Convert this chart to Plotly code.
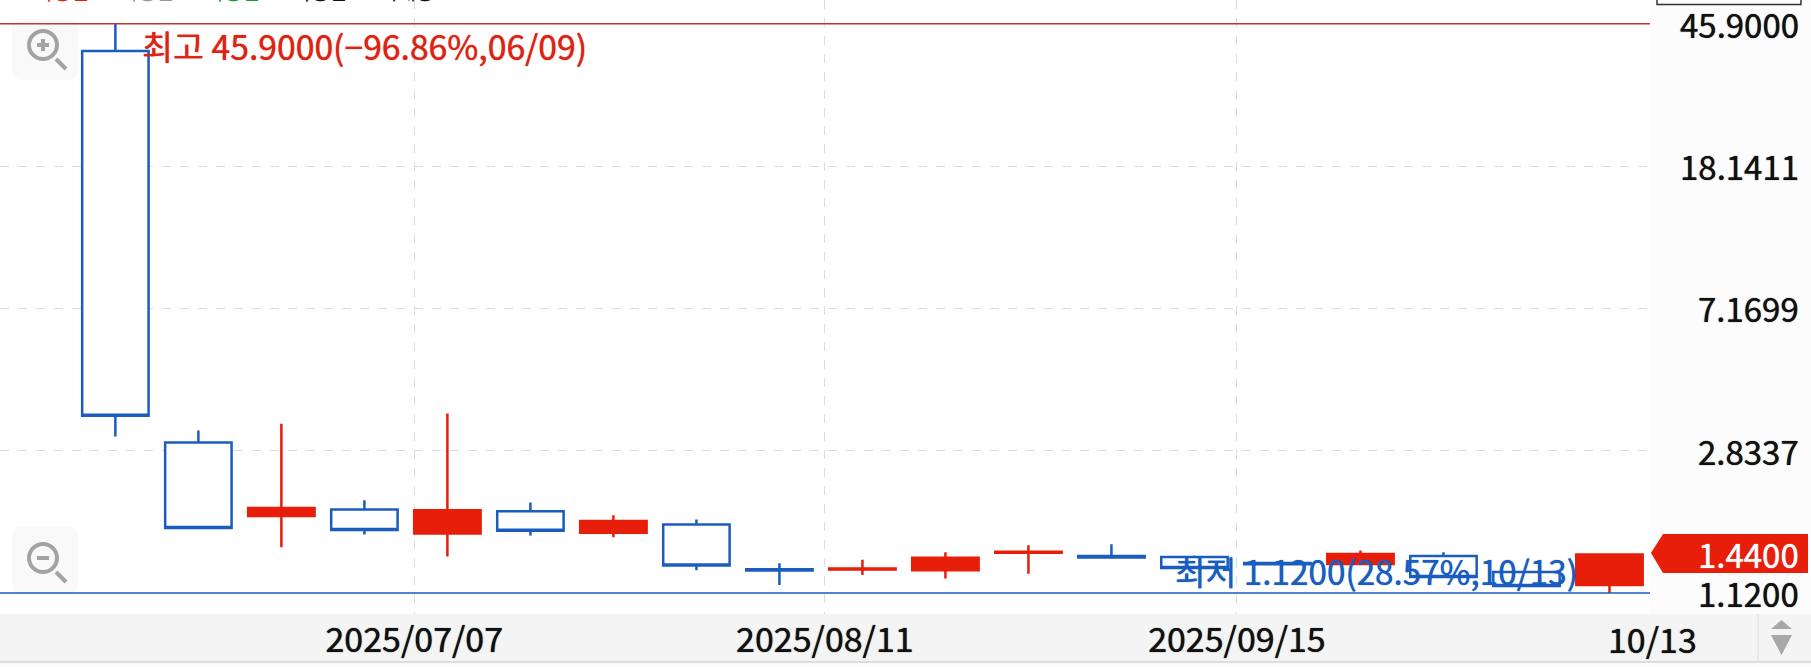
import math
import plotly.graph_objects as go

# ---- data ----
dates = ["2025-06-09","2025-06-16","2025-06-23","2025-06-30","2025-07-07","2025-07-14","2025-07-21",
         "2025-07-28","2025-08-04","2025-08-11","2025-08-18","2025-08-25","2025-09-01","2025-09-08",
         "2025-09-15","2025-09-22","2025-09-29","2025-10-06","2025-10-13"]
opens  = [38.40,2.99,1.85,1.93,1.65,1.91,1.66,1.75,1.308,1.305,1.30,1.455,1.425,1.416,1.362,1.353,1.425,1.284,1.18]
highs  = [45.90,3.23,3.38,2.05,3.61,2.02,1.86,1.81,1.36,1.39,1.46,1.53,1.54,1.43,1.38,1.477,1.46,1.284,1.45]
lows   = [3.11,1.71,1.51,1.64,1.42,1.63,1.61,1.30,1.18,1.26,1.23,1.27,1.40,1.318,1.345,1.353,1.243,1.172,1.12]
closes = [3.56,1.71,1.95,1.69,1.92,1.68,1.79,1.34,1.297,1.315,1.41,1.465,1.412,1.318,1.35,1.444,1.243,1.172,1.44]

grid_vals = [18.1411, 7.1699, 2.8337]
y_labels = [45.9, 18.1411, 7.1699, 2.8337, 1.12]
x_tick_pos = ["2025-07-04T05:00","2025-08-07T20:00","2025-09-11T14:00"]
x_tick_text = ["2025/07/07","2025/08/11","2025/09/15"]
last_label = "10/13"
high_text = "최고 45.9000(−96.86%,06/09)"
low_text = "최저 1.1200(28.57%,10/13)"
high_val, low_val, last_val = 45.9, 1.12, 1.44
legend_items = [("이평선","#e61e0a",32),("이평선","#999999",117),("이평선","#1a9a3c",203),("이평선","#111111",290),("거래량 ...","#111111",377)]

RED, BLUE = "#e61e0a", "#1a5dbf"
W, H, PW, PH = 1811, 667, 1650, 614
FONT = "Noto Sans CJK KR"
px = lambda x: x / PW
py = lambda y: 1 - y / PH

fig = go.Figure(go.Candlestick(
    x=dates, open=opens, high=highs, low=lows, close=closes,
    increasing=dict(line=dict(color=RED, width=2.5), fillcolor=RED),
    decreasing=dict(line=dict(color=BLUE, width=2.5), fillcolor="#ffffff"),
    whiskerwidth=0, showlegend=False))

def rrect(x0, y0, x1, y1, r, fill, layer="above"):
    p = (f"M {px(x0+r):.5f},{py(y0):.5f} L {px(x1-r):.5f},{py(y0):.5f} Q {px(x1):.5f},{py(y0):.5f} {px(x1):.5f},{py(y0+r):.5f} "
         f"L {px(x1):.5f},{py(y1-r):.5f} Q {px(x1):.5f},{py(y1):.5f} {px(x1-r):.5f},{py(y1):.5f} "
         f"L {px(x0+r):.5f},{py(y1):.5f} Q {px(x0):.5f},{py(y1):.5f} {px(x0):.5f},{py(y1-r):.5f} "
         f"L {px(x0):.5f},{py(y0+r):.5f} Q {px(x0):.5f},{py(y0):.5f} {px(x0+r):.5f},{py(y0):.5f} Z")
    return dict(type="path", xref="paper", yref="paper", path=p, fillcolor=fill, line=dict(width=0), layer=layer)

def rect(x0, y0, x1, y1, fill, line=None, layer="below"):
    return dict(type="rect", xref="paper", yref="paper", x0=px(x0), x1=px(x1), y0=py(y0), y1=py(y1),
                fillcolor=fill, line=dict(color=line or fill, width=1 if line else 0), layer=layer)

def poly(points, fill, layer="above", line=None):
    path = "M " + " L ".join(f"{px(a):.5f},{py(b):.5f}" for a, b in points) + " Z"
    return dict(type="path", xref="paper", yref="paper", path=path, fillcolor=fill,
                line=dict(color=line or fill, width=0), layer=layer)

GREY = "#a3a3a3"
def icon(cx, cy):
    return [
        dict(type="circle", xref="paper", yref="paper", x0=px(cx-14), x1=px(cx+14), y0=py(cy-14), y1=py(cy+14),
             line=dict(color=GREY, width=4), fillcolor="rgba(0,0,0,0)", layer="above"),
        dict(type="line", xref="paper", yref="paper", x0=px(cx+13), x1=px(cx+23), y0=py(cy+14), y1=py(cy+24),
             line=dict(color=GREY, width=4), layer="above"),
        dict(type="line", xref="paper", yref="paper", x0=px(cx-6), x1=px(cx+6), y0=py(cy), y1=py(cy),
             line=dict(color=GREY, width=4), layer="above"),
    ]

shapes = [
    rect(0, 614, 1811, 661, "#f4f4f4"),
    rrect(12, 19, 78, 80, 10, "#f9f9f9"),
    rrect(12, 527, 78, 594, 10, "#f9f9f9"),
    dict(type="line", xref="paper", yref="paper", x0=px(1758), x1=px(1758), y0=py(614), y1=py(661),
         line=dict(color="#dddddd", width=1), layer="below"),
    dict(type="line", xref="paper", yref="paper", x0=0, x1=px(1811), y0=py(662), y1=py(662),
         line=dict(color="#dddddd", width=2), layer="below"),
    dict(type="rect", xref="paper", yref="paper", x0=px(1657), x1=px(1801), y0=py(-5), y1=py(4.5),
         line=dict(color="#333333", width=1.5), fillcolor="rgba(0,0,0,0)", layer="above"),
    dict(type="line", xref="paper", yref="y", x0=0, x1=1, y0=high_val, y1=high_val,
         line=dict(color="#c0362c", width=1.5), layer="above"),
    dict(type="line", xref="paper", yref="y", x0=0, x1=1, y0=low_val, y1=low_val,
         line=dict(color=BLUE, width=1.5), layer="above"),
    poly([(1651,553),(1663,534),(1808,534),(1808,573),(1663,573)], RED),
    poly([(1771,629),(1792,629),(1781.5,620)], "#a8a8a8"),
    poly([(1771,635),(1792,635),(1781.5,655)], "#a8a8a8"),
] + icon(43, 45) + icon(43, 558)
shapes.append(dict(type="line", xref="paper", yref="paper", x0=px(43), x1=px(43), y0=py(39), y1=py(51),
                   line=dict(color=GREY, width=4), layer="above"))

THICK = "0 0 1px"
ann = []
for v in y_labels:
    ann.append(dict(xref="paper", yref="y", x=px(1801), y=math.log10(v), text=f"{v:.4f}", showarrow=False, xanchor="right",
                    yanchor="middle", font=dict(family=FONT, size=33, color="#111111", shadow=f"{THICK} #111111")))
ann.append(dict(xref="paper", yref="y", x=px(1801), y=math.log10(last_val), text=f"{last_val:.4f}", showarrow=False,
                xanchor="right", yanchor="middle", font=dict(family=FONT, size=33, color="#ffffff", shadow=f"{THICK} #ffffff")))
ann.append(dict(xref="paper", yref="y", x=px(140), y=math.log10(high_val), yshift=-22, text=high_text, showarrow=False,
                xanchor="left", yanchor="middle", font=dict(family=FONT, size=33.7, color="#dc2416", shadow=f"{THICK} #dc2416")))
ann.append(dict(xref="paper", yref="y", x=px(1173), y=math.log10(low_val), yshift=22, text=low_text, showarrow=False,
                xanchor="left", yanchor="middle", font=dict(family=FONT, size=33.3, color=BLUE, shadow=f"{THICK} {BLUE}")))
ann.append(dict(xref="paper", yref="paper", x=px(1652), y=py(638), text=last_label, showarrow=False,
                xanchor="center", yanchor="middle", font=dict(family=FONT, size=34, color="#111111", shadow=f"{THICK} #111111")))
for t, c, x in legend_items:
    ann.append(dict(xref="paper", yref="paper", x=px(x), y=1, yshift=9, text=t, showarrow=False,
                    xanchor="left", yanchor="middle", font=dict(family=FONT, size=20, color=c)))

fig.update_layout(
    width=W, height=H, autosize=False,
    margin=dict(l=0, r=W-PW, t=0, b=H-PH, autoexpand=False),
    paper_bgcolor="#fcfcfc", plot_bgcolor="#ffffff",
    boxgap=0.2, boxgroupgap=0, shapes=shapes, annotations=ann, hovermode=False,
    xaxis=dict(type="date", range=["2025-05-30T06:30","2025-10-16T10:00"], rangeslider=dict(visible=False),
               tickmode="array", tickvals=x_tick_pos, ticktext=x_tick_text, showgrid=True,
               gridcolor="#dcdcdc", griddash="dash", gridwidth=1, zeroline=False, showline=False,
               ticks="", ticklabelstandoff=3,
               tickfont=dict(family=FONT, size=34, color="#111111", shadow=f"{THICK} #111111")),
    yaxis=dict(type="log", side="right", range=[-0.0103, 1.7289], tickmode="array", tickvals=grid_vals,
               showgrid=True, gridcolor="#dcdcdc", griddash="dash", gridwidth=1, showticklabels=False,
               zeroline=False, showline=False, ticks=""),
)
fig.write_html("out.html", config=dict(displayModeBar=False),
               post_script="document.body.style.margin='0';document.body.style.overflow='hidden';")
